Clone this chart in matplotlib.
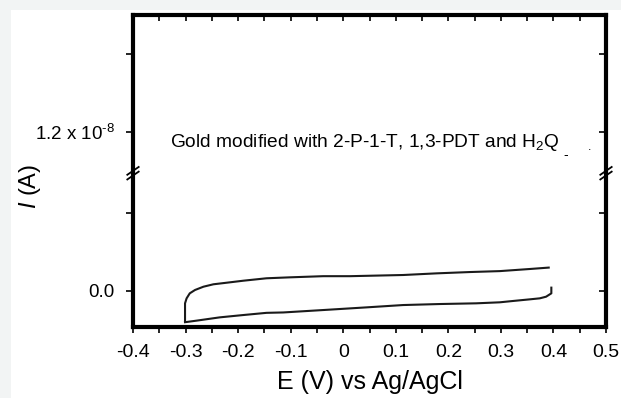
import matplotlib
import numpy as np

matplotlib.use("Agg")
import matplotlib.pyplot as plt
from matplotlib.patches import Rectangle


# cyclic voltammogram, current in plot units (0 = 0.0 A, ~2.04 = 1.2e-8 A across the break)
forward_e = [-0.301, -0.301, -0.298, -0.292, -0.282, -0.266, -0.247, -0.222, -0.190,
             -0.146, -0.102, -0.038, 0.013, 0.114, 0.177, 0.241, 0.298, 0.355, 0.391]
forward_i = [-0.394, -0.158, -0.094, -0.03, 0.013, 0.055, 0.086, 0.106, 0.132,
             0.163, 0.175, 0.19, 0.19, 0.205, 0.226, 0.243, 0.255, 0.282, 0.30]
reverse_e = [0.396, 0.396, 0.386, 0.374, 0.355, 0.323, 0.298, 0.253, 0.184, 0.114,
             0.044, -0.038, -0.114, -0.146, -0.19, -0.235, -0.279, -0.301]
reverse_i = [0.043, -0.03, -0.073, -0.094, -0.107, -0.128, -0.145, -0.158, -0.167, -0.18,
             -0.21, -0.244, -0.275, -0.28, -0.308, -0.338, -0.38, -0.40]

x_ticks = [-0.4, -0.3, -0.2, -0.1, 0.0, 0.1, 0.2, 0.3, 0.4, 0.5]
x_tick_labels = ["-0.4", "-0.3", "-0.2", "-0.1", "0", "0.1", "0.2", "0.3", "0.4", "0.5"]
y_ticks = [0.0, 1.0, 2.04, 3.04]
y_tick_labels = ["0.0", "", r"1.2 x 10$^{\text{-8}}$", ""]
break_level = 1.51

plt.rcParams["font.family"] = ["Liberation Sans", "DejaVu Sans"]
plt.rcParams["mathtext.fontset"] = "custom"
plt.rcParams["mathtext.rm"] = "Liberation Sans"
plt.rcParams["mathtext.it"] = "Liberation Sans:italic"

fig = plt.figure(figsize=(6.21, 3.98), dpi=100, facecolor="#f2f4f4")
fig.patches.append(Rectangle((11 / 621, 0), 1, 1 - 10 / 398, transform=fig.transFigure,
                             facecolor="white", edgecolor="none", zorder=-1))

ax = fig.add_axes([133 / 621, 71 / 398, 473 / 621, 312 / 398])
ax.plot(forward_e, forward_i, color="#1a1a1a", linewidth=1.5)
ax.plot(reverse_e, reverse_i, color="#1a1a1a", linewidth=1.5)

ax.set_xlim(-0.4, 0.5)
ax.set_ylim(-0.4615, 3.538)
for spine in ax.spines.values():
    spine.set_linewidth(3.0)

ax.set_xticks(x_ticks)
ax.set_xticklabels(x_tick_labels, fontsize=14)
ax.set_xticks(np.arange(-0.35, 0.5, 0.1), minor=True)
ax.set_yticks(y_ticks)
ax.set_yticklabels(y_tick_labels, fontsize=13.5)
ax.tick_params(axis="x", which="both", bottom=True, top=True, direction="out",
               length=4, width=1.2, pad=8)
ax.tick_params(axis="y", which="both", left=True, right=True, direction="out",
               length=5, width=1.2, pad=8)
# top and right ticks point inward
for tick in ax.xaxis.get_major_ticks() + ax.xaxis.get_minor_ticks():
    tick.tick2line.set_marker(3)
for tick in ax.yaxis.get_major_ticks():
    tick.tick2line.set_marker(0)

# axis break marks on both spines
trans = ax.get_yaxis_transform()
for xs in (0.0, 1.0):
    for off in (-0.03, 0.03):
        ax.plot([xs - 0.012, xs + 0.012], [break_level + off - 0.05, break_level + off + 0.05],
                color="black", linewidth=1.3, transform=trans, clip_on=False)

ax.text(-0.329, 1.9, "Gold modified with 2-P-1-T, 1,3-PDT and H$_2$Q", fontsize=13.8,
        va="center", ha="left")
ax.text(0.423, 1.74, "-", fontsize=10, va="center", ha="center")
ax.text(0.469, 1.85, ".", fontsize=9, va="center", ha="center")

ax.set_xlabel("E (V) vs Ag/AgCl", fontsize=18, labelpad=7)
ax.set_ylabel("$I$ (A)", fontsize=17)
ax.yaxis.set_label_coords(-0.19, 0.45)

fig.savefig("out.png", dpi=100, facecolor=fig.get_facecolor())
